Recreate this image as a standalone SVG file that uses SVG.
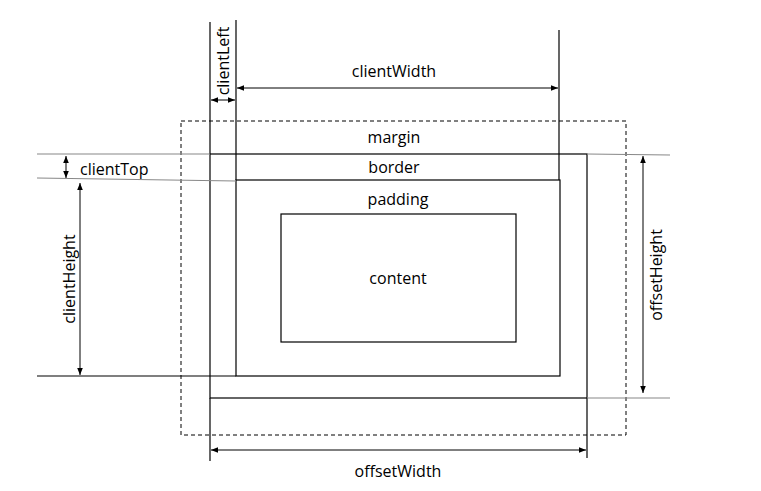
<svg xmlns="http://www.w3.org/2000/svg" width="761" height="491" viewBox="0 0 761 491">
<style>
text{font-family:"Open Sans","Liberation Sans",sans-serif;font-size:16px;fill:#000;text-anchor:middle}
.box{fill:none;stroke:#000;stroke-width:1.2}
.dash{fill:none;stroke:#000;stroke-width:1;stroke-dasharray:4,3}
.ln{stroke:#000;stroke-width:1.2;fill:none}
.gl{stroke:#888;stroke-width:1.2;fill:none}
.ar{stroke:#000;stroke-width:1;fill:none;marker-start:url(#a);marker-end:url(#a)}
</style>
<defs>
<marker id="a" viewBox="0 0 10 10" refX="10" refY="5" markerWidth="7" markerHeight="7" orient="auto-start-reverse" markerUnits="userSpaceOnUse">
<path d="M0,1 L10,5 L0,9 Z" fill="#000"/>
</marker>
</defs>
<g id="margin">
<rect class="dash" x="181" y="121" width="445" height="314"/>
<text x="394" y="143">margin</text>
</g>
<g id="border">
<rect class="box" x="210" y="154" width="377" height="244"/>
<text x="394" y="173">border</text>
</g>
<g id="padding">
<rect class="box" x="236" y="180" width="324" height="196"/>
<text x="398" y="205">padding</text>
</g>
<g id="content">
<rect class="box" x="281" y="214" width="235" height="128"/>
<text x="398" y="284">content</text>
</g>
<g id="connectors">
<line class="ln" x1="210" y1="22" x2="210" y2="154"/>
<line class="ln" x1="210" y1="398" x2="210" y2="461"/>
<line class="ln" x1="236" y1="20" x2="236" y2="180"/>
<line class="ln" x1="559" y1="30" x2="559" y2="180"/>
<line class="ln" x1="587" y1="398" x2="587" y2="458"/>
<line class="gl" x1="37" y1="154" x2="210" y2="154"/>
<line class="gl" x1="587" y1="154" x2="670" y2="155"/>
<line class="gl" x1="37" y1="178" x2="236" y2="181"/>
<line class="ln" x1="37" y1="376" x2="236" y2="376"/>
<line class="gl" x1="587" y1="398" x2="670" y2="398"/>
<line class="ar" x1="211" y1="100" x2="235" y2="100"/>
<line class="ar" x1="237" y1="88" x2="558" y2="88"/>
<line class="ar" x1="66" y1="156" x2="66" y2="178"/>
<line class="ar" x1="80" y1="183" x2="80" y2="375"/>
<line class="ar" x1="643" y1="156" x2="643" y2="393"/>
<line class="ar" x1="211" y1="450" x2="586" y2="450"/>
</g>
<g id="labels">
<text x="394" y="77">clientWidth</text>
<text x="80" y="175" style="text-anchor:start">clientTop</text>
<text x="398" y="477">offsetWidth</text>
<text transform="translate(229,61) rotate(-90)">clientLeft</text>
<text transform="translate(75,279) rotate(-90)">clientHeight</text>
<text transform="translate(662,275) rotate(-90)">offsetHeight</text>
</g>
</svg>
